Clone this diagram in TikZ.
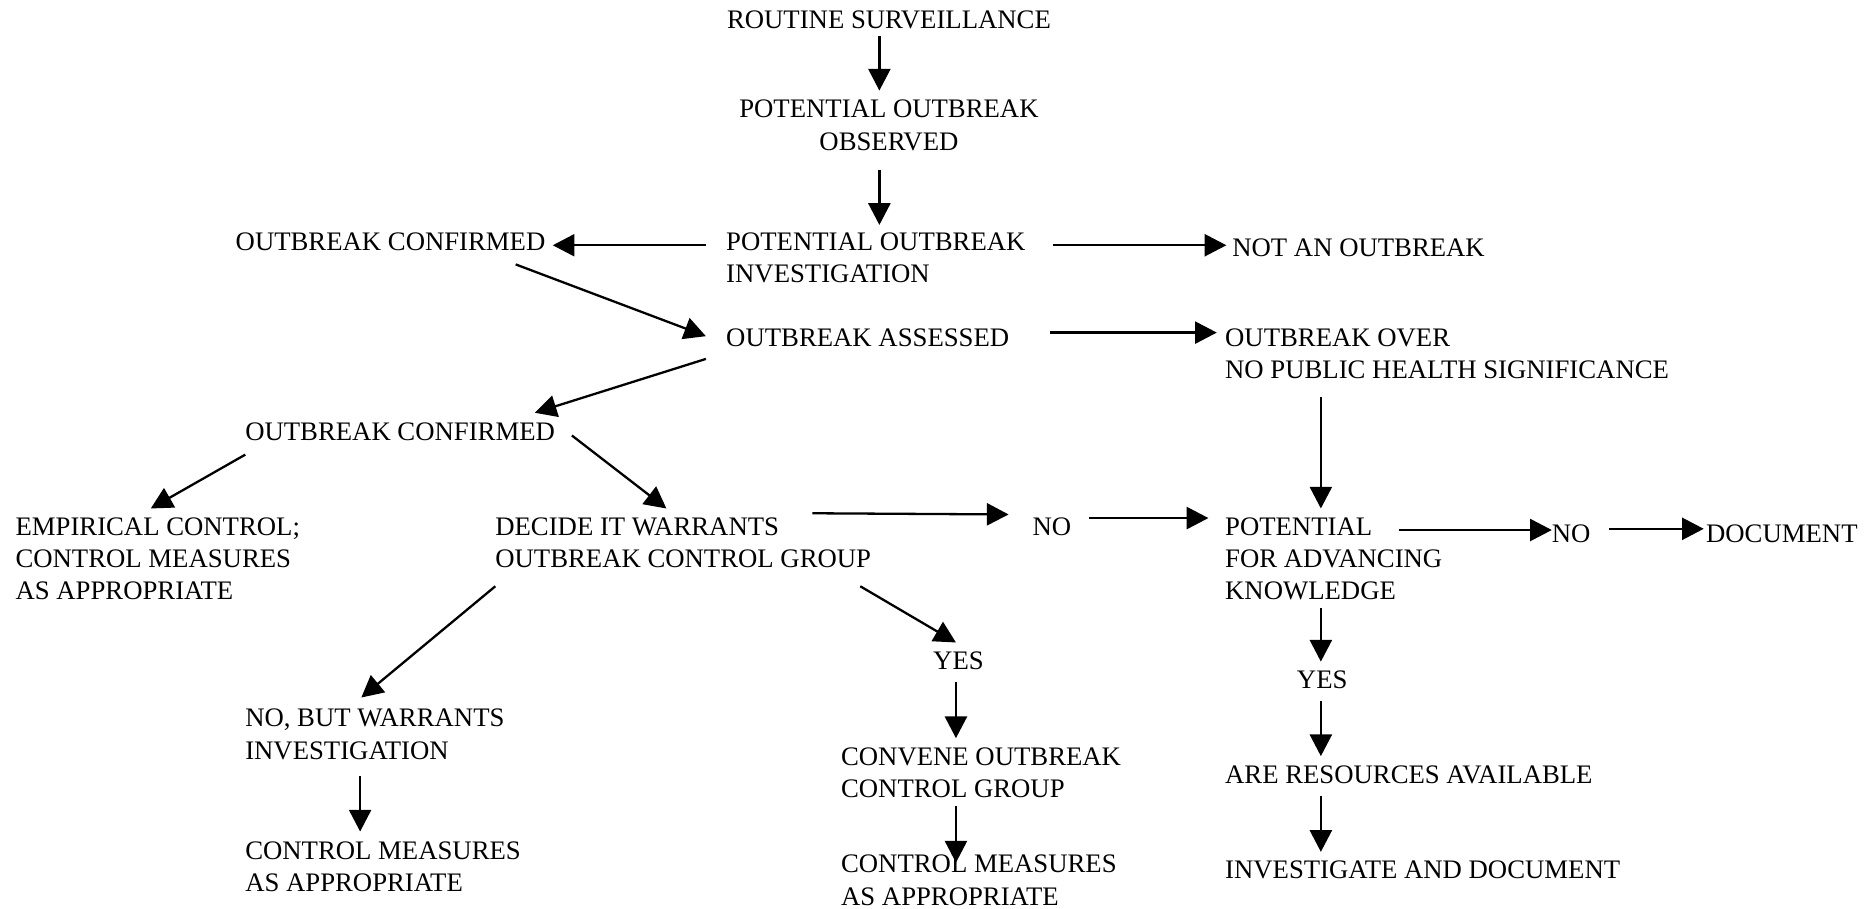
\documentclass[tikz,border=0pt]{standalone}
\usepackage{fontspec}
\setmainfont{Liberation Serif}
\usetikzlibrary{arrows.meta,calc}

\begin{document}
\begin{tikzpicture}[
  x=0.678pt, y=-0.678pt,
  lbl/.style={inner sep=0pt, outer sep=0pt, anchor=north west, align=left,
              font=\fontsize{15.15}{18.3}\selectfont},
  clbl/.style={lbl, anchor=north, align=center},
  arr/.style={line width=1.3pt, -{Triangle[length=12.3pt,width=12.5pt]}}
]
\useasboundingbox (0,0) rectangle (1568,759);

% ---- text nodes ----
\node[clbl] (rs)   at (743,8.7)     {ROUTINE SURVEILLANCE};
\node[clbl] (po)   at (743,83.7)    {POTENTIAL OUTBREAK\\OBSERVED};
\node[lbl]  (pi)   at (607,194.7)   {POTENTIAL OUTBREAK\\INVESTIGATION};
\node[lbl]  (oc1)  at (197,194.7)   {OUTBREAK CONFIRMED};
\node[lbl]  (na)   at (1030,199.7)  {NOT AN OUTBREAK};
\node[lbl]  (oa)   at (607,274.7)   {OUTBREAK ASSESSED};
\node[lbl]  (oo)   at (1024,274.7)  {OUTBREAK OVER\\NO PUBLIC HEALTH SIGNIFICANCE};
\node[lbl]  (oc2)  at (205,353.7)   {OUTBREAK CONFIRMED};
\node[lbl]  (ec)   at (13,432.7)    {EMPIRICAL CONTROL;\\CONTROL MEASURES\\AS APPROPRIATE};
\node[lbl]  (dw)   at (414,432.7)   {DECIDE IT WARRANTS\\OUTBREAK CONTROL GROUP};
\node[lbl]  (no1)  at (863,432.7)   {NO};
\node[lbl]  (pk)   at (1024,432.7)  {POTENTIAL\\FOR ADVANCING\\KNOWLEDGE};
\node[lbl]  (no2)  at (1297,438.7)  {NO};
\node[lbl]  (doc)  at (1426,438.7)  {DOCUMENT};
\node[lbl]  (yes1) at (780,544.7)   {YES};
\node[lbl]  (nb)   at (205,592.7)   {NO, BUT WARRANTS\\INVESTIGATION};
\node[lbl]  (cm1)  at (205,703.7)   {CONTROL MEASURES\\AS APPROPRIATE};
\node[lbl]  (cv)   at (703,624.7)   {CONVENE OUTBREAK\\CONTROL GROUP};
\node[lbl]  (cm2)  at (703,714.7)   {CONTROL MEASURES\\AS APPROPRIATE};
\node[lbl]  (yes2) at (1084,560.7)  {YES};
\node[lbl]  (ar)   at (1024,639.7)  {ARE RESOURCES AVAILABLE};
\node[lbl]  (id)   at (1024,719.7)  {INVESTIGATE AND DOCUMENT};

% ---- connectors ----
\draw[arr] ($(rs.north)+(-8,21)$) -- ($(po.north)+(-8,-8)$);
\draw[arr] ($(po.north)+(-8,58.3)$) -- ($(pi.north west)+(128,-6.7)$);
\draw[arr] ($(pi.north west)+(-17,10.3)$) -- ($(oc1.north west)+(265,10.3)$);
\draw[arr] ($(pi.north west)+(273,10.3)$) -- ($(na.north west)+(-5,5.3)$);
\draw[arr] ($(oc1.north west)+(234,26.3)$) -- ($(oa.north west)+(-17,6.3)$);
\draw[arr] ($(oa.north west)+(-17,25.3)$) -- ($(oc2.north west)+(242,-8.7)$);
\draw[arr] ($(oa.north west)+(271,3.3)$) -- ($(oo.north west)+(-7,3.3)$);
\draw[arr] ($(oc2.north west)+(0,26.3)$) -- ($(ec.north west)+(113,-7.7)$);
\draw[arr] ($(oc2.north west)+(273,10.3)$) -- ($(dw.north west)+(143,-7.7)$);
\draw[arr] ($(dw.north west)+(265,-3.7)$) -- ($(no1.north west)+(-20,-2.7)$);
\draw[arr] ($(no1.north west)+(47,0.3)$) -- ($(pk.north west)+(-14,0.3)$);
\draw[arr] ($(oo.north west)+(80,57.3)$) -- ($(pk.north west)+(80,-7.7)$);
\draw[arr] ($(pk.north west)+(145,10.3)$) -- ($(no2.north west)+(0,4.3)$);
\draw[arr] ($(no2.north west)+(48,3.3)$) -- ($(doc.north west)+(-2,3.3)$);
\draw[arr] ($(dw.north west)+(0,57.3)$) -- ($(nb.north west)+(97,-9.7)$);
\draw[arr] ($(dw.north west)+(305,57.3)$) -- ($(yes1.north west)+(19,-7.7)$);
\draw[arr] ($(yes1.north west)+(19,25.3)$) -- ($(cv.north west)+(96,-7.7)$);
\draw[arr] ($(nb.north west)+(96,56.3)$) -- ($(cm1.north west)+(96,-8.7)$);
\draw[arr] ($(cv.north west)+(96,49.3)$) -- ($(cm2.north west)+(96,6.3)$);
\draw[arr] ($(pk.north west)+(80,75.3)$) -- ($(yes2.north west)+(20,-7.7)$);
\draw[arr] ($(yes2.north west)+(20,25.3)$) -- ($(ar.north west)+(80,-7.7)$);
\draw[arr] ($(ar.north west)+(80,25.3)$) -- ($(id.north west)+(80,-7.7)$);
\end{tikzpicture}
\end{document}
